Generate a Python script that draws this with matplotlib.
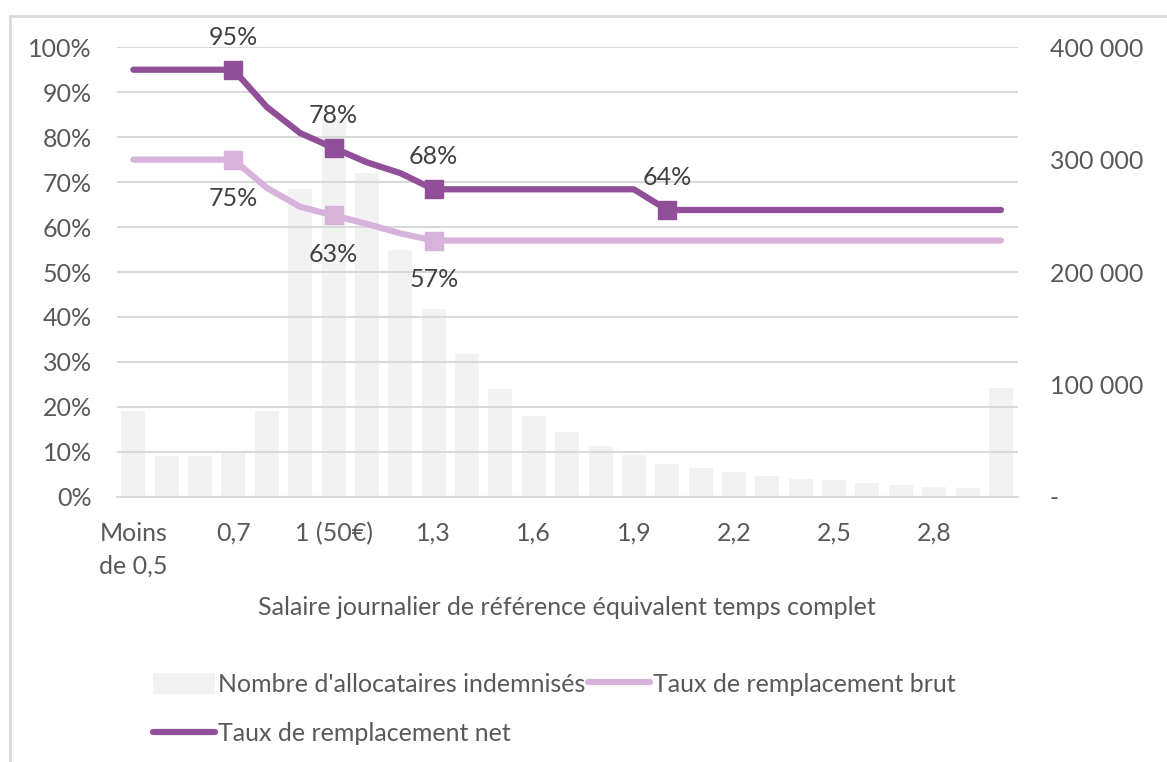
import matplotlib.pyplot as plt
import matplotlib.ticker as mticker
from matplotlib.lines import Line2D
from matplotlib.patches import Patch

plt.rcParams["font.family"] = ["Lato", "DejaVu Sans"]

# Categories (salaire journalier de référence, en multiple du SMIC)
categories = ["Moins\nde 0,5"] + [f"{v / 10:.1f}".replace(".", ",") for v in range(5, 30)] + ["3 et +"]
categories[6] = "1 (50€)"
tick_every = 3

# Nombre d'allocataires indemnisés (axe droit)
allocataires = [76000, 36500, 36500, 40000, 76000, 274000, 336000, 288000, 220000,
                167000, 127000, 96000, 72000, 58000, 45000, 37000, 29000, 26000,
                22000, 18500, 16000, 15000, 12500, 10500, 9000, 8000, 97000]

# Taux de remplacement (%)
taux_brut = [75, 75, 75, 75, 68.7, 64.5, 62.6, 60.7, 58.6, 57, 57, 57, 57, 57, 57,
             57, 57, 57, 57, 57, 57, 57, 57, 57, 57, 57, 57]
taux_net = [95, 95, 95, 95, 86.7, 80.9, 77.6, 74.4, 72, 68.4, 68.4, 68.4, 68.4, 68.4,
            68.4, 68.4, 63.8, 63.8, 63.8, 63.8, 63.8, 63.8, 63.8, 63.8, 63.8, 63.8, 63.8]

# Points annotés
brut_marks = [3, 6, 9]
brut_labels = ["75%", "63%", "57%"]
net_marks = [3, 6, 9, 16]
net_labels = ["95%", "78%", "68%", "64%"]

c_net = "#904F98"
c_brut = "#D7B2DA"
c_bar = "#F2F2F2"
c_text = "#595959"
c_grid = "#D9D9D9"
fs = 18

fig = plt.figure(figsize=(11.67, 7.62), dpi=100)
ax = fig.add_axes([0.100, 0.348, 0.772, 0.590])
ax2 = ax.twinx()

x = list(range(len(categories)))

# Bars on the right axis, drawn behind the lines
ax2.bar(x, allocataires, width=0.72, color=c_bar, zorder=1)
ax2.set_ylim(0, 400000)
ax2.yaxis.set_major_locator(mticker.MultipleLocator(100000))
ax2.yaxis.set_major_formatter(mticker.FuncFormatter(
    lambda v, p: "-" if v == 0 else f"{int(v):,}".replace(",", " ")))

ax.set_zorder(ax2.get_zorder() + 1)
ax.patch.set_visible(False)

ax.plot(x, taux_brut, color=c_brut, lw=4.5, solid_capstyle="round", zorder=3)
ax.plot(x, taux_net, color=c_net, lw=4.5, solid_capstyle="round", zorder=4)
ax.plot([x[i] for i in brut_marks], [taux_brut[i] for i in brut_marks], "s",
        color=c_brut, ms=13, zorder=3)
ax.plot([x[i] for i in net_marks], [taux_net[i] for i in net_marks], "s",
        color=c_net, ms=13, zorder=4)

for i, lab in zip(brut_marks, brut_labels):
    ax.annotate(lab, (x[i], taux_brut[i]), xytext=(0, -20), textcoords="offset points",
                ha="center", va="top", fontsize=fs, color="#404040", zorder=5)
for i, lab in zip(net_marks, net_labels):
    ax.annotate(lab, (x[i], taux_net[i]), xytext=(0, 15), textcoords="offset points",
                ha="center", va="bottom", fontsize=fs, color="#404040", zorder=5)

ax.set_ylim(0, 100)
ax.set_xlim(-0.5, len(categories) - 0.5)
ax.yaxis.set_major_locator(mticker.MultipleLocator(10))
ax.yaxis.set_major_formatter(mticker.FuncFormatter(lambda v, p: f"{int(v)}%"))
ax.grid(axis="y", color=c_grid, lw=1.5)
ax.set_axisbelow(True)

ax.set_xticks(x[::tick_every])
ax.set_xticklabels(categories[::tick_every], fontsize=fs, color=c_text, linespacing=1.5)
ax.tick_params(axis="x", length=0, pad=18)
ax.tick_params(axis="y", length=0, labelsize=fs, labelcolor=c_text, pad=18)
ax2.tick_params(axis="y", length=0, labelsize=fs, labelcolor=c_text, pad=23)

for a in (ax, ax2):
    for s in a.spines.values():
        s.set_visible(False)
ax.spines["bottom"].set_visible(True)
ax.spines["bottom"].set_color(c_grid)
ax.spines["bottom"].set_linewidth(1.5)

fig.text(0.486, 0.203, "Salaire journalier de référence équivalent temps complet",
         ha="center", va="center", fontsize=fs, color=c_text)

handles = [
    Patch(facecolor=c_bar, edgecolor="none", label="Nombre d'allocataires indemnisés"),
    Line2D([], [], color=c_net, lw=4.5, solid_capstyle="round", label="Taux de remplacement net"),
    Line2D([], [], color=c_brut, lw=4.5, solid_capstyle="round", label="Taux de remplacement brut"),
]
leg = fig.legend(handles=handles, ncol=2, loc="upper left", bbox_to_anchor=(0.131, 0.117),
                 frameon=False, fontsize=fs, labelcolor=c_text, handlelength=2.5,
                 handleheight=0.9, handletextpad=0.1, columnspacing=0.1,
                 labelspacing=1.05, borderpad=0, borderaxespad=0)

# Cadre du graphique (haut et gauche)
fig.add_artist(Line2D([10 / 1167, 1], [1 - 16 / 762, 1 - 16 / 762], color=c_grid, lw=2,
                      transform=fig.transFigure))
fig.add_artist(Line2D([10 / 1167, 10 / 1167], [0, 1 - 16 / 762], color=c_grid, lw=2,
                      transform=fig.transFigure))

fig.savefig("out.png", dpi=100)
